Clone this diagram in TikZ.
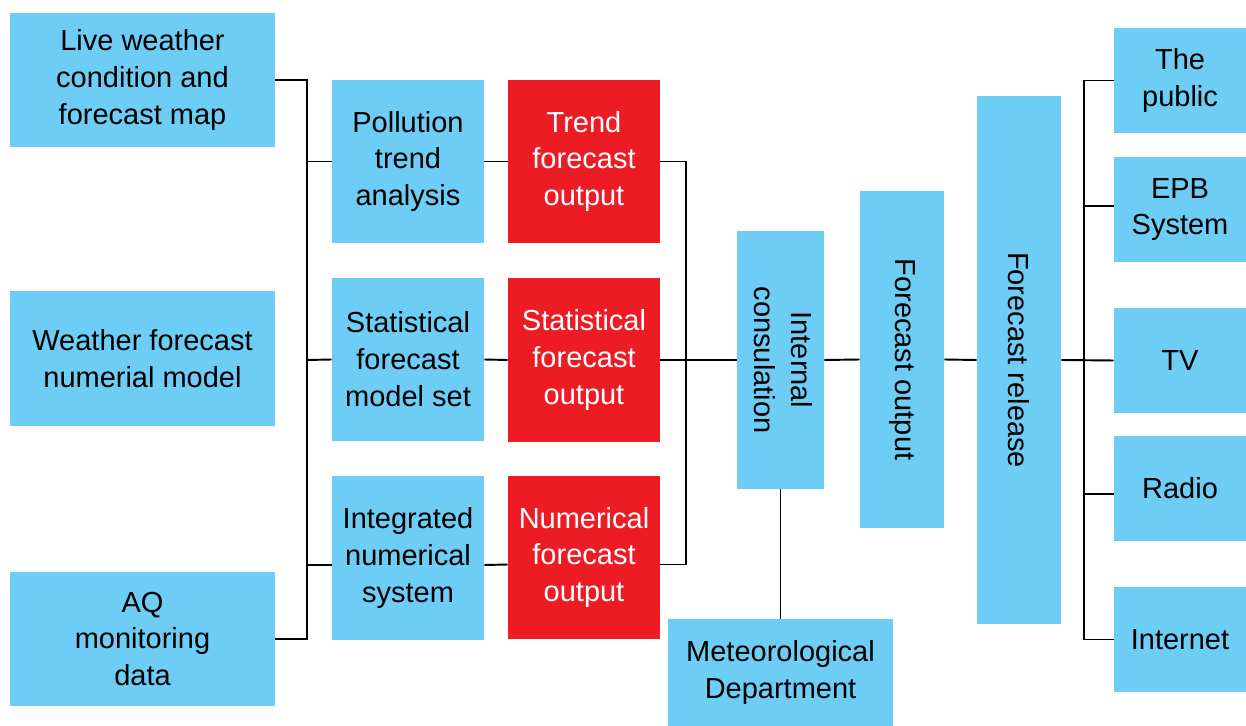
\documentclass[tikz,border=0pt]{standalone}
\usepackage{fontspec}
\setmainfont{Liberation Sans}
\usepackage{tikz}
\definecolor{ink}{HTML}{000000}
\definecolor{sSky}{HTML}{6DCDF5}
\definecolor{sRed}{HTML}{ED1C24}
\tikzset{
  blk/.style={fill=sSky, inner sep=0pt, align=center, text=ink},
  hot/.style={fill=sRed, inner sep=0pt, align=center, text=white},
  wire/.style={draw=ink, line width=1.1pt},
}
\begin{document}
\begin{tikzpicture}[x=0.2mm, y=-0.2mm, font=\fontsize{16.5}{21}\selectfont]
\useasboundingbox (0,0) rectangle (1246,726);
% sources
\node[blk, minimum width=53mm, minimum height=26.8mm] (live) at (142.5,80) {Live weather\\condition and\\forecast map};
\node[blk, minimum width=53mm, minimum height=27mm] (wfm) at (142.5,358.5) {Weather forecast\\numerial model};
\node[blk, minimum width=53mm, minimum height=26.8mm] (aq) at (142.5,639) {AQ\\monitoring\\data};
% analysis and outputs
\node[blk, minimum width=30.4mm, minimum height=32.6mm] (poll) at (408,161.5) {Pollution\\trend\\analysis};
\node[blk, minimum width=30.4mm, minimum height=32.6mm] (stat) at (408,359.5) {Statistical\\forecast\\model set};
\node[blk, minimum width=30.4mm, minimum height=32.8mm] (integ) at (408,558) {Integrated\\numerical\\system};
\node[hot, minimum width=30.4mm, minimum height=32.6mm] (trend) at (584,161.5) {Trend\\forecast\\output};
\node[hot, minimum width=30.4mm, minimum height=32.8mm] (statout) at (584,360) {Statistical\\forecast\\output};
\node[hot, minimum width=30.4mm, minimum height=32.6mm] (numout) at (584,557.5) {Numerical\\forecast\\output};
% consultation and release
\node[blk, minimum width=17.4mm, minimum height=51.6mm] (intcons) at (780.5,360) {\rotatebox{-90}{\begin{tabular}{@{}c@{}}Internal\\consulation\end{tabular}}};
\node[blk, minimum width=45mm, minimum height=21.4mm] (meteo) at (780.5,672.5) {Meteorological\\Department};
\node[blk, minimum width=16.8mm, minimum height=67.4mm] (fcout) at (902,359.5) {\rotatebox{-90}{Forecast output}};
\node[blk, minimum width=16.8mm, minimum height=105.6mm] (fcrel) at (1019,360) {\rotatebox{-90}{Forecast release}};
% receivers
\node[blk, minimum width=26.4mm, minimum height=21mm] (public) at (1180,80.5) {The\\public};
\node[blk, minimum width=26.4mm, minimum height=21mm] (epb) at (1180,209.5) {EPB\\System};
\node[blk, minimum width=26.4mm, minimum height=21mm] (tv) at (1180,360.5) {TV};
\node[blk, minimum width=26.4mm, minimum height=21mm] (radio) at (1180,488.5) {Radio};
\node[blk, minimum width=26.4mm, minimum height=21mm] (internet) at (1180,639.5) {Internet};
% buses
\coordinate (lbus) at (307,360);
\coordinate (mbus) at (686,360);
\coordinate (obus) at (1084,360);
\coordinate (iw) at ([yshift=-1.4mm]integ.west);
\coordinate (ie) at ([yshift=-1.4mm]integ.east);
\coordinate (nw) at ([yshift=-1.4mm]numout.west);
\coordinate (ne) at ([yshift=-1.4mm]numout.east);
\coordinate (ew) at ([yshift=0.7mm]epb.west);
\coordinate (rw) at ([yshift=-1.1mm]radio.west);
\draw[wire] (live.east) -| (lbus) |- (aq.east);
\draw[wire] (lbus) -- (stat.west);
\draw[wire] (poll.west) -- (poll.west -| lbus);
\draw[wire] (iw) -- (iw -| lbus);
\draw[wire] (poll.east) -- (trend.west);
\draw[wire] (stat.east) -- (statout.west);
\draw[wire] (ie) -- (nw);
\draw[wire] (trend.east) -| (mbus) |- (ne);
\draw[wire] (statout.east) -- (intcons.west);
\draw[wire] (intcons.south) -- (meteo.north);
\draw[wire] (intcons.east) -- (fcout.west);
\draw[wire] (fcout.east) -- (fcrel.west);
\draw[wire] (fcrel.east) -- (tv.west);
\draw[wire] (public.west) -| (obus) |- (internet.west);
\draw[wire] (ew) -- (ew -| obus);
\draw[wire] (rw) -- (rw -| obus);
\end{tikzpicture}
\end{document}
